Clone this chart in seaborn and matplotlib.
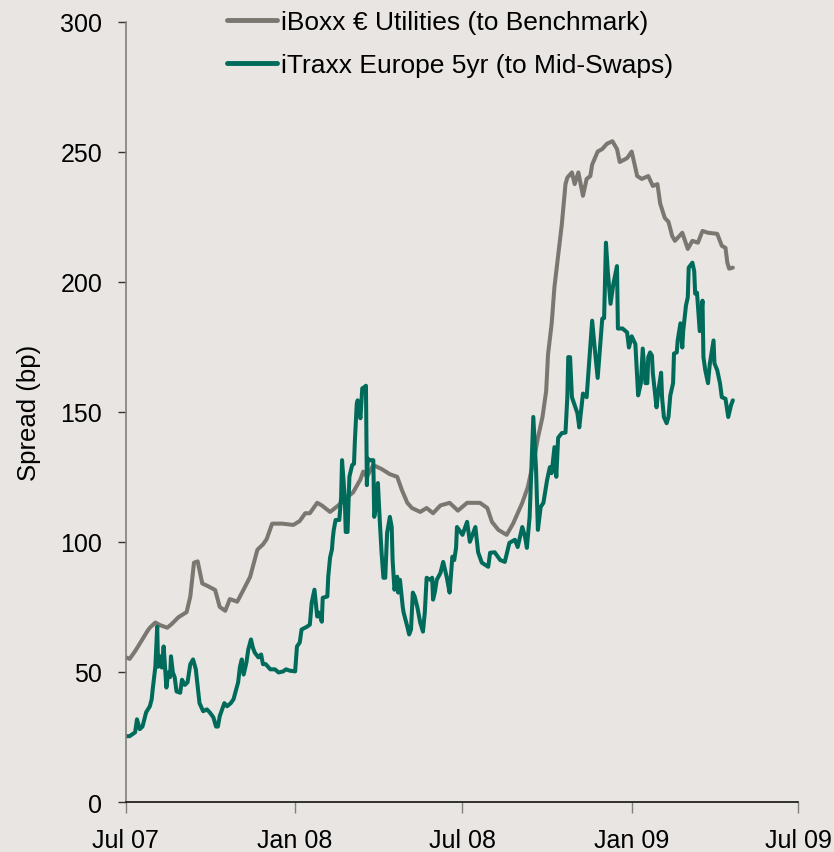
import pandas as pd
import matplotlib.pyplot as plt
import matplotlib.dates as mdates
import seaborn as sns

# ---------------- DATA ----------------
# days counted from 1 Jul 2007, spread in bp
IBOXX_LABEL = "iBoxx € Utilities (to Benchmark)"
ITRAXX_LABEL = "iTraxx Europe 5yr (to Mid-Swaps)"

iboxx_days = [1, 4, 10, 17, 23, 26, 32, 37, 45, 50, 57, 66, 70, 74, 78, 83, 89, 97,
              102, 108, 113, 121, 127, 135, 143, 149, 153, 159, 170, 182, 189, 195,
              200, 208, 213, 222, 231, 240, 247, 255, 258, 262, 269, 278, 287, 295,
              300, 306, 311, 320, 327, 334, 342, 352, 361, 371, 385, 393, 398, 405,
              414, 421, 431, 437, 445, 448, 453, 457, 459, 463, 466, 469, 474, 478,
              480, 485, 488, 492, 497, 501, 505, 507, 513, 518, 523, 529, 534, 537,
              545, 550, 556, 561, 568, 573, 578, 581, 586, 590, 594, 597, 605, 611,
              616, 622, 627, 633, 643, 648, 652, 654, 656, 660]
iboxx_bp = [55.5, 55, 58, 62, 65.5, 67, 69, 68, 67, 68.5, 71, 73, 79, 92, 92.5, 84, 83,
            81.5, 75, 73.5, 78, 77, 81, 86.5, 97, 99, 101, 107, 107, 106.5, 108, 111,
            111, 115, 114, 111.5, 114, 117, 119, 124, 127, 125, 129.5, 128, 126, 125,
            120, 115, 113, 111.5, 113, 111, 114, 115, 112, 115, 115, 113, 107.7, 104.6,
            102.7, 107, 115, 121, 134, 140, 148, 158, 172, 184, 198, 207, 222, 237.5,
            240, 242, 237.5, 242, 233, 239.5, 240.6, 245, 250, 251, 253, 254, 251, 246,
            247.5, 250, 240.6, 239.5, 240.6, 236.8, 237.5, 230, 224.5, 223, 217.6, 215.7,
            218.8, 212.6, 215.7, 215, 219.5, 218.8, 218.4, 213.8, 213, 207.3, 205, 205.4]

itraxx_days = [1, 4, 10, 12, 15, 18, 22, 26, 28, 29, 32, 34, 35, 37, 39, 41, 44, 46, 48,
               49, 51, 53, 55, 59, 61, 64, 67, 70, 73, 76, 78, 80, 84, 88, 91, 95, 98,
               100, 102, 107, 110, 114, 117, 122, 124, 126, 128, 131, 133, 136, 138,
               140, 144, 147, 149, 152, 157, 162, 166, 171, 174, 178, 184, 186, 189,
               191, 197, 200, 202, 205, 208, 210, 213, 214, 219, 220, 222, 224, 225,
               226, 228, 232, 234, 235, 236, 238, 239, 241, 243, 246, 248, 249, 251,
               252, 255, 257, 259, 261, 262, 263, 265, 269, 270, 273, 274, 276, 278,
               280, 282, 284, 287, 289, 290, 292, 295, 296, 298, 301, 302, 306, 308,
               310, 312, 314, 317, 320, 323, 325, 327, 331, 333, 334, 336, 338, 342,
               345, 349, 352, 355, 357, 359, 360, 366, 371, 374, 380, 383, 387, 394,
               396, 401, 407, 412, 417, 423, 426, 431, 434, 436, 439, 443, 446, 448,
               451, 454, 458, 461, 463, 466, 468, 470, 474, 478, 480, 481, 483, 485,
               491, 493, 497, 501, 507, 510, 513, 518, 520, 522, 524, 527, 530, 534,
               535, 540, 545, 547, 550, 554, 556, 557, 560, 562, 565, 567, 568, 570,
               572, 573, 577, 579, 582, 583, 585, 588, 590, 592, 595, 596, 599, 600,
               603, 605, 606, 609, 611, 612, 616, 618, 619, 621, 622, 624, 627, 628,
               630, 633, 635, 639, 640, 643, 646, 648, 652, 655, 658, 660]
itraxx_bp = [25.3, 25.3, 26.8, 31.8, 28, 29, 34.5, 36.8, 39.5, 43, 52, 67.4, 52, 56, 51.7,
             59.8, 44, 49.8, 48, 56, 49.8, 48, 42.5, 42, 47, 45, 46, 53, 54.8, 51, 44.4,
             38, 34.9, 35.6, 34.5, 32.6, 29, 29, 33, 38, 36.8, 38, 39.5, 46, 52, 54.8,
             49, 53.6, 58.6, 62.5, 59.4, 57.5, 55.6, 56.7, 53, 53, 51, 51, 49.8, 50.2,
             51, 50.5, 50.2, 59.8, 61.3, 66.3, 67.4, 68.2, 76.6, 81.6, 71.3, 72.8, 69.3,
             78.5, 79, 86.6, 94, 97, 101.5, 104.6, 108.4, 108.4, 117, 131.4, 126.4,
             116.9, 103.8, 103.8, 125, 129.5, 130, 139, 153, 154.4, 147.5, 159, 159.4,
             160, 121.8, 132, 131.4, 131.4, 109.6, 115.3, 122.6, 108.4, 95.8, 86.2,
             86.2, 103.4, 109.6, 105.7, 93, 81.6, 86.6, 80.5, 85.4, 75, 72.8, 67.4,
             64.4, 66.3, 80.5, 79, 74.7, 69, 65.5, 72.8, 86.2, 85.4, 86.2, 77.8, 80.8,
             85.4, 88, 92.3, 86.2, 80.5, 94.3, 93, 97.7, 105.7, 102.7, 107.7, 100,
             105.7, 96, 92, 90.4, 95.8, 96, 93, 92.3, 99.6, 100.8, 98, 105.7, 102, 97.7,
             109.6, 148, 127.6, 104.6, 113.4, 115, 123.8, 128.7, 126.4, 136.4, 125, 140,
             141.8, 142, 155.6, 171, 171, 155.6, 149.4, 144, 157, 155.6, 185, 173.6,
             163, 185.8, 186, 215, 204, 191.5, 199, 206, 182, 182, 180.5, 174.7, 179,
             176, 163, 156.3, 161, 174.3, 161, 161, 171, 172.8, 171.6, 164.8, 151.7,
             158, 165, 155.6, 148, 145.6, 148, 156.3, 161, 172.4, 172.8, 177.4, 184,
             174.7, 181, 190.8, 194, 205.4, 207.3, 204, 195.4, 195.8, 190.8, 181, 192.7,
             171, 166, 161, 168.6, 177.4, 168.6, 166, 161, 155.6, 155, 148, 152.5, 154.4]

x_ticks = ["2007-07-01", "2008-01-01", "2008-07-01", "2009-01-01", "2009-07-01"]
y_ticks = [0, 50, 100, 150, 200, 250, 300]

# ---------------- STYLE ----------------
BG = "#E8E5E2"
GREY = "#7A7670"
GREEN = "#006B5A"

sns.set_style("white", {"axes.facecolor": BG, "figure.facecolor": BG})
plt.rcParams["font.family"] = ["Liberation Sans", "DejaVu Sans"]
plt.rcParams["font.size"] = 18
plt.rcParams["text.color"] = "black"
plt.rcParams["axes.labelcolor"] = "black"
plt.rcParams["xtick.color"] = "black"
plt.rcParams["ytick.color"] = "black"

start = pd.Timestamp("2007-07-01")
df = pd.concat([
    pd.DataFrame({"date": start + pd.to_timedelta(iboxx_days, unit="D"),
                  "spread": iboxx_bp, "series": IBOXX_LABEL}),
    pd.DataFrame({"date": start + pd.to_timedelta(itraxx_days, unit="D"),
                  "spread": itraxx_bp, "series": ITRAXX_LABEL}),
], ignore_index=True)

fig = plt.figure(figsize=(8.34, 8.53), dpi=100)
ax = fig.add_axes([0.151, 0.0586, 0.806, 0.915])

sns.lineplot(data=df, x="date", y="spread", hue="series",
             palette={IBOXX_LABEL: GREY, ITRAXX_LABEL: GREEN},
             linewidth=2.9, ax=ax, legend=True)

ax.set_xlim(pd.Timestamp(x_ticks[0]), pd.Timestamp(x_ticks[-1]))
ax.set_ylim(0, 300)
ax.set_xticks(pd.to_datetime(x_ticks))
ax.xaxis.set_major_formatter(mdates.DateFormatter("%b %y"))
ax.set_yticks(y_ticks)
ax.set_xlabel("")
ax.set_ylabel("Spread (bp)", fontsize=18.5, labelpad=14)

for side in ["top", "right"]:
    ax.spines[side].set_visible(False)
ax.spines["left"].set_color("#808080")
ax.spines["left"].set_linewidth(1.2)
ax.spines["bottom"].set_color("#111111")
ax.spines["bottom"].set_linewidth(1.2)
ax.tick_params(axis="y", direction="out", length=6, width=1, color="#333333",
               pad=11, labelsize=18, left=True)
ax.tick_params(axis="x", direction="out", length=8, width=1, color="#808080",
               pad=11, labelsize=18, bottom=True)

handles, labels = ax.get_legend_handles_labels()
for h in handles:
    h.set_linewidth(3.5)
ax.legend(handles, labels, loc="upper left", frameon=False,
          bbox_to_anchor=(227 / 834, 1 - 11 / 853), bbox_transform=fig.transFigure,
          borderpad=0, borderaxespad=0, handlelength=1.9, handletextpad=0.15,
          labelspacing=0.72, fontsize=19)

fig.savefig("out.png", dpi=100, facecolor=BG)
